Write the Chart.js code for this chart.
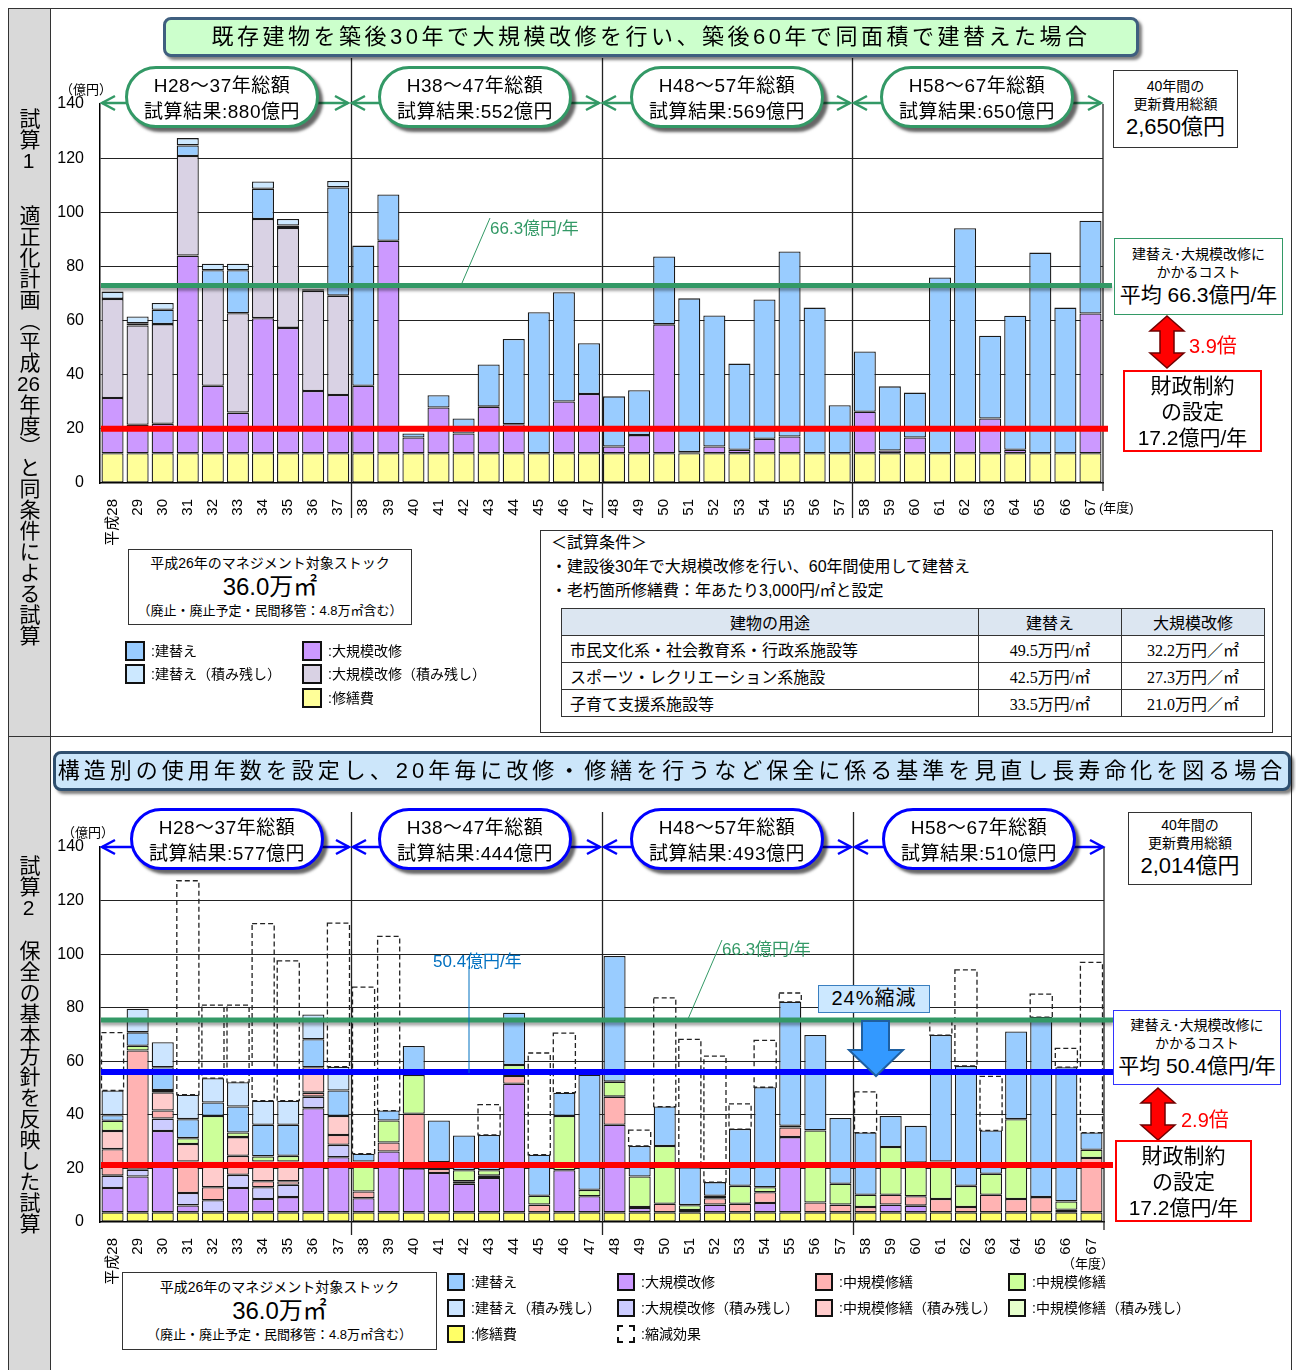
<!DOCTYPE html>
<html lang="ja">
<head>
<meta charset="utf-8">
<title>更新費用の試算</title>
<script src="https://cdn.jsdelivr.net/npm/chart.js@4.4.1/dist/chart.umd.min.js"></script>
<style>
body { margin: 0; background: #fff; }
#page { position: relative; width: 1296px; height: 1370px; overflow: hidden; color: #000;
  font-family: 'Liberation Sans', 'Noto Sans CJK JP', sans-serif; }
.abs { position: absolute; }
canvas { position: absolute; z-index: 1; }
svg { position: absolute; left: 0; top: 0; z-index: 2; }
.box { position: absolute; z-index: 3; background: #fff; text-align: center; box-sizing: border-box; }
.pill { position: absolute; z-index: 3; background: #fff; border-radius: 31px; height: 62px; width: 194px;
  box-sizing: border-box; text-align: center; font-size: 19px; line-height: 26px; padding-top: 4px;
  box-shadow: 4px 4px 3px rgba(0,0,0,0.6); letter-spacing: 0.5px; }
.pill.g { border: 3px solid #339966; }
.pill.b { border: 3px solid #0000ff; }
.vt { position: absolute; z-index: 3; writing-mode: vertical-rl; font-size: 21px; line-height: 21px; left: 18px; }
.tcy { text-combine-upright: all; }
.lg { position: absolute; z-index: 3; font-size: 14px; line-height: 20px; white-space: nowrap; }
.lg i { display: inline-block; width: 16px; height: 16px; border: 2px solid #111; vertical-align: -5px; margin-right: 6px; }
.lg2 { position: absolute; z-index: 3; font-size: 14px; line-height: 20px; white-space: nowrap; }
.lg2 i { display: inline-block; width: 14px; height: 14px; border: 2px solid #111; vertical-align: -4px; margin-right: 6px; }
table.cond { position: absolute; z-index: 3; left: 561px; top: 608px; border-collapse: collapse; font-size: 16px; }
table.cond td { border: 1.5px solid #333; height: 26px; padding: 0 8px; }
table.cond .num { font-family: 'Liberation Serif', 'Noto Sans CJK JP', serif; text-align: center; font-size: 16px; }
</style>
</head>
<body>
<div id="page">

  <!-- 枠 -->
  <div class="abs" style="left:8px;top:8px;width:1284px;height:1380px;border:1.5px solid #333;box-sizing:border-box;"></div>
  <div class="abs" style="left:9px;top:9px;width:41px;height:1361px;background:#d9d9d9;border-right:1.5px solid #333;"></div>
  <div class="abs" style="left:8px;top:736px;width:1284px;height:0;border-top:1.5px solid #333;"></div>

  <div class="vt" style="top:108px;">試算<span class="tcy">1</span></div>
  <div class="vt" style="top:205px;">適正化計画（平成<span class="tcy">26</span>年度）と同条件による試算</div>
  <div class="vt" style="top:855px;">試算<span class="tcy">2</span></div>
  <div class="vt" style="top:940px;">保全の基本方針を反映した試算</div>

  <canvas id="chart1" width="1070" height="500" style="left:50px;top:50px;"></canvas>
  <canvas id="chart2" width="1070" height="490" style="left:50px;top:800px;"></canvas>

  <svg width="1296" height="1370">
    <!-- 試算1 期間矢印 -->
    <g stroke="#339966" stroke-width="2.5" fill="none">
      <line x1="102" y1="103" x2="348" y2="103"/><polyline points="115,96 102,103 115,110"/><polyline points="335,96 348,103 335,110"/>
      <line x1="352" y1="103" x2="599" y2="103"/><polyline points="365,96 352,103 365,110"/><polyline points="586,96 599,103 586,110"/>
      <line x1="603" y1="103" x2="850" y2="103"/><polyline points="616,96 603,103 616,110"/><polyline points="837,96 850,103 837,110"/>
      <line x1="854" y1="103" x2="1101" y2="103"/><polyline points="867,96 854,103 867,110"/><polyline points="1088,96 1101,103 1088,110"/>
    </g>
    <line x1="462" y1="283" x2="490" y2="218" stroke="#339966" stroke-width="1"/>
    <polygon points="1167,316 1184,331 1174,331 1174,353 1184,353 1167,368 1150,353 1160,353 1160,331 1150,331"
      fill="#ff0000" stroke="#700000" stroke-width="1.5"/>

    <!-- 試算2 期間矢印 -->
    <g stroke="#0000ff" stroke-width="2.5" fill="none">
      <line x1="102" y1="847" x2="349" y2="847"/><polyline points="115,840 102,847 115,854"/><polyline points="336,840 349,847 336,854"/>
      <line x1="353" y1="847" x2="600" y2="847"/><polyline points="366,840 353,847 366,854"/><polyline points="587,840 600,847 587,854"/>
      <line x1="604" y1="847" x2="851" y2="847"/><polyline points="617,840 604,847 617,854"/><polyline points="838,840 851,847 838,854"/>
      <line x1="855" y1="847" x2="1103" y2="847"/><polyline points="868,840 855,847 868,854"/><polyline points="1090,840 1103,847 1090,854"/>
    </g>
    <line x1="469" y1="966" x2="469" y2="1073" stroke="#0070c0" stroke-width="1"/>
    <line x1="688" y1="1019" x2="722" y2="940" stroke="#339966" stroke-width="1"/>
    <polygon points="862,1021 889,1021 889,1050 903,1050 876,1076 849,1050 862,1050"
      fill="#3399ff" stroke="#1f5fa0" stroke-width="2"/>
    <polygon points="1158,1088 1175,1103 1165,1103 1165,1125 1175,1125 1158,1140 1141,1125 1151,1125 1151,1103 1141,1103"
      fill="#ff0000" stroke="#700000" stroke-width="1.5"/>
  </svg>

  <!-- 試算1 注記 -->
  <div class="box" style="left:163px;top:17px;width:976px;height:40px;background:#ccffcc;border:3px solid #3f5f7f;border-radius:8px;
    box-shadow:3px 3px 3px rgba(0,0,0,0.5);font-size:22px;line-height:34px;letter-spacing:3.5px;">既存建物を築後30年で大規模改修を行い、築後60年で同面積で建替えた場合</div>

  <div class="pill g" style="left:125px;top:66px;">H28～37年総額<br>試算結果:880億円</div>
  <div class="pill g" style="left:378px;top:66px;">H38～47年総額<br>試算結果:552億円</div>
  <div class="pill g" style="left:630px;top:66px;">H48～57年総額<br>試算結果:569億円</div>
  <div class="pill g" style="left:880px;top:66px;">H58～67年総額<br>試算結果:650億円</div>

  <div class="abs" style="z-index:3;left:60px;top:79px;font-size:13px;">（億円）</div>
  <div class="abs" style="z-index:3;left:1099px;top:497px;font-size:13px;">(年度)</div>
  <div class="abs" style="z-index:3;left:490px;top:214px;font-size:17px;color:#339966;">66.3億円/年</div>

  <div class="box" style="left:1113px;top:70px;width:125px;height:78px;border:1.5px solid #333;padding-top:6px;">
    <div style="font-size:14px;line-height:18px;">40年間の</div>
    <div style="font-size:14px;line-height:18px;">更新費用総額</div>
    <div style="font-size:22px;line-height:28px;">2,650億円</div>
  </div>
  <div class="box" style="left:1114px;top:238px;width:169px;height:77px;border:1.5px solid #339966;padding-top:6px;">
    <div style="font-size:14px;line-height:18px;">建替え･大規模改修に</div>
    <div style="font-size:14px;line-height:18px;">かかるコスト</div>
    <div style="font-size:21px;line-height:28px;white-space:nowrap;">平均 66.3億円/年</div>
  </div>
  <div class="abs" style="z-index:3;left:1189px;top:330px;font-size:20px;color:#ff0000;">3.9倍</div>
  <div class="box" style="left:1123px;top:370px;width:139px;height:82px;border:2.5px solid #ff0000;font-size:21px;line-height:26px;padding-top:1px;">
    財政制約<br>の設定<br>17.2億円/年
  </div>

  <div class="box" style="left:128px;top:549px;width:284px;height:76px;border:1.5px solid #333;padding-top:3px;">
    <div style="font-size:14px;line-height:20px;">平成26年のマネジメント対象ストック</div>
    <div style="font-size:24px;line-height:28px;">36.0万㎡</div>
    <div style="font-size:13px;line-height:20px;">（廃止・廃止予定・民間移管：4.8万㎡含む）</div>
  </div>

  <div class="lg" style="left:125px;top:641px;"><i style="background:#99ccff"></i>:建替え</div>
  <div class="lg" style="left:125px;top:664px;"><i style="background:#cce8ff"></i>:建替え（積み残し）</div>
  <div class="lg" style="left:302px;top:641px;"><i style="background:#cc99ff"></i>:大規模改修</div>
  <div class="lg" style="left:302px;top:664px;"><i style="background:#d9d2e4"></i>:大規模改修（積み残し）</div>
  <div class="lg" style="left:302px;top:688px;"><i style="background:#ffff99"></i>:修繕費</div>

  <div class="box" style="left:540px;top:530px;width:733px;height:203px;border:1.5px solid #333;text-align:left;font-size:16px;line-height:24px;padding:0 0 0 10px;">
    <div style="margin-top:0;">＜試算条件＞</div>
    <div>・建設後30年で大規模改修を行い、60年間使用して建替え</div>
    <div>・老朽箇所修繕費：年あたり3,000円/㎡と設定</div>
  </div>
  <table class="cond">
    <tr style="background:#dce6f1;text-align:center;"><td style="width:400px;">建物の用途</td><td style="width:126px;">建替え</td><td style="width:126px;">大規模改修</td></tr>
    <tr><td>市民文化系・社会教育系・行政系施設等</td><td class="num">49.5万円/㎡</td><td class="num">32.2万円／㎡</td></tr>
    <tr><td>スポーツ・レクリエーション系施設</td><td class="num">42.5万円/㎡</td><td class="num">27.3万円／㎡</td></tr>
    <tr><td>子育て支援系施設等</td><td class="num">33.5万円/㎡</td><td class="num">21.0万円／㎡</td></tr>
  </table>

  <!-- 試算2 注記 -->
  <div class="box" style="left:53px;top:751px;width:1238px;height:40px;background:#cce6fa;border:3px solid #2f4f6f;border-radius:8px;
    box-shadow:3px 3px 3px rgba(0,0,0,0.5);font-size:22px;line-height:34px;letter-spacing:4px;">構造別の使用年数を設定し、20年毎に改修・修繕を行うなど保全に係る基準を見直し長寿命化を図る場合</div>

  <div class="pill b" style="left:130px;top:808px;">H28～37年総額<br>試算結果:577億円</div>
  <div class="pill b" style="left:378px;top:808px;">H38～47年総額<br>試算結果:444億円</div>
  <div class="pill b" style="left:630px;top:808px;">H48～57年総額<br>試算結果:493億円</div>
  <div class="pill b" style="left:882px;top:808px;">H58～67年総額<br>試算結果:510億円</div>

  <div class="abs" style="z-index:3;left:62px;top:822px;font-size:13px;">（億円）</div>
  <div class="abs" style="z-index:3;left:1062px;top:1253px;font-size:13px;">（年度）</div>
  <div class="abs" style="z-index:3;left:433px;top:947px;font-size:17px;color:#0070c0;">50.4億円/年</div>
  <div class="abs" style="z-index:3;left:722px;top:935px;font-size:17px;color:#339966;">66.3億円/年</div>
  <div class="box" style="left:818px;top:985px;width:112px;height:28px;background:#cce8ff;border:1.5px solid #3a7fc0;font-size:20px;line-height:25px;letter-spacing:1px;">24%縮減</div>

  <div class="box" style="left:1128px;top:812px;width:124px;height:73px;border:1.5px solid #333;padding-top:3px;">
    <div style="font-size:14px;line-height:18px;">40年間の</div>
    <div style="font-size:14px;line-height:18px;">更新費用総額</div>
    <div style="font-size:22px;line-height:28px;">2,014億円</div>
  </div>
  <div class="box" style="left:1113px;top:1010px;width:168px;height:75px;border:1.5px solid #3333ff;padding-top:5px;">
    <div style="font-size:14px;line-height:18px;">建替え･大規模改修に</div>
    <div style="font-size:14px;line-height:18px;">かかるコスト</div>
    <div style="font-size:21px;line-height:28px;white-space:nowrap;">平均 50.4億円/年</div>
  </div>
  <div class="abs" style="z-index:3;left:1181px;top:1104px;font-size:20px;color:#ff0000;">2.9倍</div>
  <div class="box" style="left:1115px;top:1140px;width:137px;height:82px;border:2.5px solid #ff0000;font-size:21px;line-height:26px;padding-top:1px;">
    財政制約<br>の設定<br>17.2億円/年
  </div>

  <div class="box" style="left:122px;top:1272px;width:315px;height:78px;border:1.5px solid #333;padding-top:4px;">
    <div style="font-size:14px;line-height:20px;">平成26年のマネジメント対象ストック</div>
    <div style="font-size:24px;line-height:28px;">36.0万㎡</div>
    <div style="font-size:13px;line-height:20px;">（廃止・廃止予定・民間移管：4.8万㎡含む）</div>
  </div>

  <div class="lg2" style="left:447px;top:1272px;"><i style="background:#99ccff"></i>:建替え</div>
  <div class="lg2" style="left:447px;top:1298px;"><i style="background:#cce5ff"></i>:建替え（積み残し）</div>
  <div class="lg2" style="left:447px;top:1324px;"><i style="background:#ffff66"></i>:修繕費</div>
  <div class="lg2" style="left:617px;top:1272px;"><i style="background:#cc99ff"></i>:大規模改修</div>
  <div class="lg2" style="left:617px;top:1298px;"><i style="background:#ccccff"></i>:大規模改修（積み残し）</div>
  <div class="lg2" style="left:617px;top:1324px;"><i style="background:#fff;border:2px dashed #111;"></i>:縮減効果</div>
  <div class="lg2" style="left:815px;top:1272px;"><i style="background:#ffb3b3"></i>:中規模修繕</div>
  <div class="lg2" style="left:815px;top:1298px;"><i style="background:#ffcccc"></i>:中規模修繕（積み残し）</div>
  <div class="lg2" style="left:1008px;top:1272px;"><i style="background:#ccff99"></i>:中規模修繕</div>
  <div class="lg2" style="left:1008px;top:1298px;"><i style="background:#e6ffcc"></i>:中規模修繕（積み残し）</div>
</div>

<script>
// 年度（x軸）
const years = ['平成28','29','30','31','32','33','34','35','36','37',
  '38','39','40','41','42','43','44','45','46','47',
  '48','49','50','51','52','53','54','55','56','57',
  '58','59','60','61','62','63','64','65','66','67'];
const yTicks = [0, 20, 40, 60, 80, 100, 120, 140];

// 試算1（億円）
const t1Repair = [11,11,11,11,11,11,11,11,11,11, 11,11,11,11,11,11,11,11,11,11,
  11,11,11,11,11,11,11,11,11,11, 11,11,11,11,11,11,11,11,11,11];
const t1Major = [20.4,10.5,10.9,73.0,24.9,15.0,49.9,46.3,23.0,21.5,
  24.9,78.5,5.8,16.9,7.3,17.2,10.7,0,19.1,21.9,
  2.5,6.7,47.6,0.4,2.5,1.3,5.3,6.2,0,0,
  15.3,1.0,5.8,0,9.5,12.8,1.3,0,0,51.6];
const t1MajorLeft = [36.6,36.7,36.8,36.8,36.6,36.7,36.6,36.9,37.0,36.7,
  0,0,0,0,0,0,0,0,0,0, 0,0,0,0,0,0,0,0,0,0, 0,0,0,0,0,0,0,0,0,0];
const t1Rebuild = [0,0.8,5.3,3.9,6.1,15.9,11.2,0.9,0.6,40.0,
  51.8,17.1,1.5,4.5,5.5,15.6,31.5,52.1,40.4,18.7,
  18.5,16.6,25.1,56.8,48.4,31.8,51.5,68.3,53.8,17.7,
  22.3,23.7,16.6,64.9,73.6,30.6,49.5,74.1,53.8,34.3];
const t1RebuildLeft = [2.7,2.5,2.5,2.7,2.4,2.4,2.7,2.4,0,2.4,
  0,0,0,0,0,0,0,0,0,0, 0,0,0,0,0,0,0,0,0,0, 0,0,0,0,0,0,0,0,0,0];

// 試算2（億円）
const t2Repair = [3.6,3.6,3.6,3.6,3.6,3.6,3.6,3.6,3.6,3.6, 3.6,3.6,3.6,3.6,3.6,3.6,3.6,3.6,3.6,3.6,
  3.6,3.6,3.6,3.6,3.6,3.6,3.6,3.6,3.6,3.6, 3.6,3.6,3.6,3.6,3.6,3.6,3.6,3.6,3.6,3.6];
const t2Major = [9.1,13.4,30.4,2.6,0,9.1,5.0,5.7,38.9,20.6,
  5.3,22.7,16.4,14.7,10.7,12.8,48.0,0,15.7,6.0,
  32.7,1.6,0,0.9,2.9,0,3.5,28.1,0,0,
  0,2.9,2.5,0,0,0,0,0,1.0,0];
const t2MajorLeft = [4.6,2.5,4.6,4.6,4.5,4.9,4.4,4.6,4.3,4.6,
  0,0,0,0,0,0,0,0,0,0, 0,0,0,0,0,0,0,0,0,0, 0,0,0,0,0,0,0,0,0,0];
const t2Mid = [9.9,44.5,3.0,11.8,4.9,7.1,2.2,1.3,1.5,3.7,
  2.5,3.4,20.4,1.5,0.9,0.9,2.9,2.9,0,0,
  10.5,0.4,3.2,0,2.4,3.2,4.0,3.6,3.7,2.9,
  2.0,3.7,3.5,5.0,2.0,6.6,5.0,5.7,0,20.3];
const t2MidLeft = [6.8,0,6.8,6.5,9.0,7.0,7.4,7.4,9.5,7.1,
  0,0,0,0,0,0,0,0,0,0, 0,0,0,0,0,0,0,0,0,0, 0,0,0,0,0,0,0,0,0,0];
const t2MidGreen = [3.8,1.8,0.9,2.2,17.6,1.7,1.9,2.1,0,0,
  11.2,8.2,14.5,2.6,4.1,2.0,4.1,3.3,20.3,2.4,
  5.6,11.4,21.6,1.8,0.9,6.7,1.9,0.6,26.9,7.8,
  4.6,17.8,12.6,14.0,7.9,7.8,29.8,0,3.1,3.1];
const t2Rebuild = [2.1,5.0,8.5,7.1,5.0,9.7,11.8,11.6,10.4,9.5,
  2.9,3.7,10.8,15.5,13.0,13.2,19.5,15.3,8.7,43.0,
  46.9,11.4,14.7,14.2,5.1,21.2,37.3,46.3,35.6,24.5,
  23.2,11.6,13.7,47.2,44.8,16.2,32.7,67.2,50.1,6.4];
const t2RebuildLeft = [9.2,8.8,9.3,9.1,9.1,9.1,9.0,9.0,9.3,8.9,
  0,0,0,0,0,0,0,0,0,0, 0,0,0,0,0,0,0,0,0,0, 0,0,0,0,0,0,0,0,0,0];

// 平均・財政制約ラインの描画位置（億円目盛り上）
const t1Lines = [
  { value: 73.0, color: '#339966', width: 5, right: 1112, shadow: true },
  { value: 20.0, color: '#ff0000', width: 6, right: 1108 }
];
const t2Lines = [
  { value: 75.4, color: '#339966', width: 5, right: 1113, shadow: true },
  { value: 56.0, color: '#0000ff', width: 6, right: 1113 },
  { value: 21.3, color: '#ff0000', width: 6, right: 1113 }
];

const FONT = "'Liberation Sans', 'Noto Sans CJK JP', sans-serif";

function stackSet(label, data, color) {
  return {
    label: label,
    data: data.map(v => v > 0 ? v : null),
    backgroundColor: color,
    borderColor: '#1a1a1a',
    borderWidth: 1.3,
    borderSkipped: false,
    barPercentage: 0.88,
    categoryPercentage: 1
  };
}

function sumAt(arrays, i) {
  return arrays.reduce((s, a) => s + a[i], 0);
}

// 期間区切り線・縮減効果の破線・平均ライン
const overlayPlugin = {
  id: 'overlay',
  afterDatasetsDraw(chart, args, opts) {
    const { ctx, chartArea } = chart;
    const x = chart.scales.x, y = chart.scales.y;
    const left = chart.canvas.offsetLeft;
    ctx.save();

    chart.data.datasets.forEach((ds, i) => {
      if (!ds.dashed) return;
      ctx.setLineDash([5, 3]);
      ctx.lineWidth = 1.3;
      ctx.strokeStyle = '#222';
      chart.getDatasetMeta(i).data.forEach((bar, j) => {
        if (ds.data[j] == null) return;
        const p = bar.getProps(['x', 'y', 'base', 'width'], true);
        ctx.strokeRect(p.x - p.width / 2, p.y, p.width, p.base - p.y);
      });
    });
    ctx.setLineDash([]);

    ctx.strokeStyle = '#222';
    ctx.lineWidth = 1.3;
    [10, 20, 30].forEach(i => {
      const px = Math.round((x.getPixelForValue(i - 1) + x.getPixelForValue(i)) / 2) + 0.5;
      ctx.beginPath();
      ctx.moveTo(px, opts.divTop);
      ctx.lineTo(px, opts.divBottom);
      ctx.stroke();
    });
    ctx.beginPath();
    ctx.moveTo(chartArea.right, chartArea.top);
    ctx.lineTo(chartArea.right, chartArea.bottom + 8);
    ctx.stroke();

    opts.lines.forEach(l => {
      const py = y.getPixelForValue(l.value);
      ctx.save();
      if (l.shadow) {
        ctx.shadowColor = 'rgba(0,0,0,0.35)';
        ctx.shadowOffsetY = 3;
        ctx.shadowBlur = 3;
      }
      ctx.strokeStyle = l.color;
      ctx.lineWidth = l.width;
      ctx.beginPath();
      ctx.moveTo(chartArea.left + 1, py);
      ctx.lineTo(l.right - left, py);
      ctx.stroke();
      ctx.restore();
    });
    ctx.restore();
  }
};

function chartOptions(cfg) {
  return {
    responsive: false,
    animation: false,
    devicePixelRatio: 1,
    layout: { padding: { left: 0, right: cfg.padRight, top: cfg.padTop, bottom: 0 } },
    scales: {
      x: {
        stacked: true,
        grid: { display: false },
        border: { display: true, color: '#000', width: 1.5 },
        ticks: {
          autoSkip: false, maxRotation: 90, minRotation: 90, padding: cfg.xPad,
          color: '#000', font: { family: FONT, size: 15 }
        },
        afterFit(scale) { scale.height = cfg.xHeight; }
      },
      y: {
        stacked: true,
        min: yTicks[0],
        max: yTicks[yTicks.length - 1],
        ticks: {
          stepSize: yTicks[1] - yTicks[0], padding: 16,
          color: '#000', font: { family: FONT, size: 16 }
        },
        grid: {
          drawTicks: false,
          lineWidth: 1,
          color: c => (c.tick.value === 0 || c.tick.value === 140) ? 'rgba(0,0,0,0)' : '#222'
        },
        border: { display: true, color: '#000', width: 1.5 },
        afterFit(scale) { scale.width = 50; }
      }
    },
    plugins: {
      legend: { display: false },
      tooltip: { enabled: false },
      overlay: { lines: cfg.lines, divTop: cfg.divTop, divBottom: cfg.divBottom }
    }
  };
}

const t1Sets = [
  stackSet('修繕費', t1Repair, '#ffff99'),
  stackSet('大規模改修', t1Major, '#cc99ff'),
  stackSet('大規模改修（積み残し）', t1MajorLeft, '#d9d2e4'),
  stackSet('建替え', t1Rebuild, '#99ccff'),
  stackSet('建替え（積み残し）', t1RebuildLeft, '#cce8ff')
];

new Chart(document.getElementById('chart1'), {
  type: 'bar',
  data: { labels: years, datasets: t1Sets },
  options: chartOptions({ padRight: 17, padTop: 54, xHeight: 67, xPad: 8, lines: t1Lines, divTop: 8, divBottom: 468 }),
  plugins: [overlayPlugin]
});

// 縮減効果：試算1の総額から試算2の総額までの差
const t1Arrays = [t1Repair, t1Major, t1MajorLeft, t1Rebuild, t1RebuildLeft];
const t2Arrays = [t2Repair, t2Major, t2MajorLeft, t2Mid, t2MidLeft, t2MidGreen, t2Rebuild, t2RebuildLeft];
const cutRange = years.map((_, i) => {
  const before = sumAt(t1Arrays, i);
  const after = sumAt(t2Arrays, i);
  return before > after + 0.5 ? [after, before] : null;
});

const t2Sets = [
  stackSet('修繕費', t2Repair, '#ffff66'),
  stackSet('大規模改修', t2Major, '#cc99ff'),
  stackSet('大規模改修（積み残し）', t2MajorLeft, '#ccccff'),
  stackSet('中規模修繕', t2Mid, '#ffb3b3'),
  stackSet('中規模修繕（積み残し）', t2MidLeft, '#ffcccc'),
  stackSet('中規模修繕', t2MidGreen, '#ccff99'),
  stackSet('建替え', t2Rebuild, '#99ccff'),
  stackSet('建替え（積み残し）', t2RebuildLeft, '#cce5ff'),
  {
    label: '縮減効果', data: cutRange, stack: 'cut', grouped: false, dashed: true,
    backgroundColor: 'rgba(0,0,0,0)', borderWidth: 0,
    barPercentage: 0.88, categoryPercentage: 1
  }
];

new Chart(document.getElementById('chart2'), {
  type: 'bar',
  data: { labels: years, datasets: t2Sets },
  options: chartOptions({ padRight: 16, padTop: 47, xHeight: 68, xPad: 8, lines: t2Lines, divTop: 12, divBottom: 435 }),
  plugins: [overlayPlugin]
});
</script>
</body>
</html>
